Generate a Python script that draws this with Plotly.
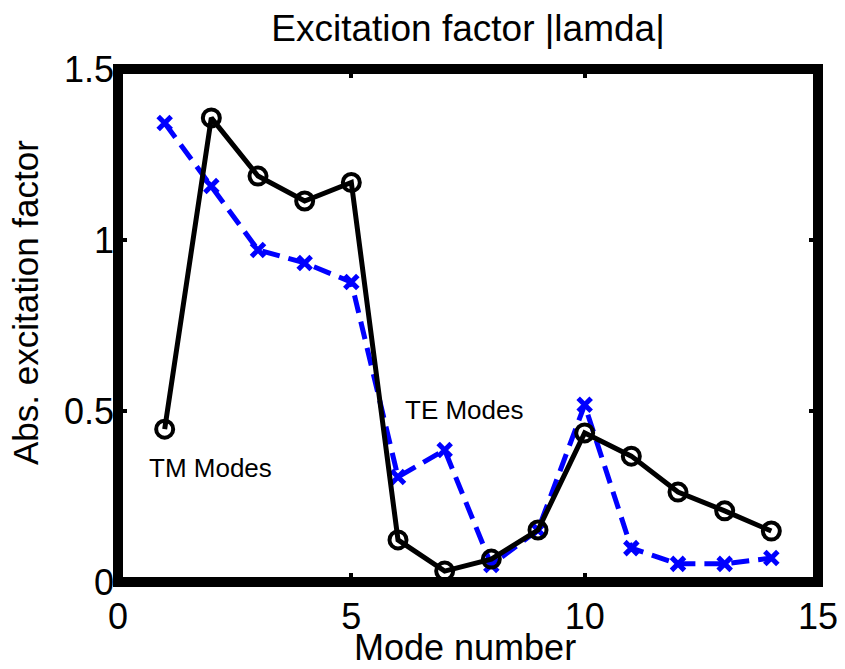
import plotly.graph_objects as go

modes = list(range(1, 15))
tm_values = [0.447, 1.357, 1.187, 1.114, 1.168, 0.123, 0.032, 0.067, 0.152,
             0.436, 0.368, 0.263, 0.208, 0.149]
te_values = [1.342, 1.158, 0.971, 0.933, 0.877, 0.307, 0.386, 0.050, 0.152,
             0.518, 0.099, 0.053, 0.053, 0.070]
x_ticks = [0, 5, 10, 15]
y_ticks = [0, 0.5, 1, 1.5]
y_tick_labels = ["0", "0.5", "1", "1.5"]

font_family = "Liberation Sans, Arial, sans-serif"

# page has an 8px body margin; work in page pixels and convert
OFF = 8
W, H = 845 - OFF, 669 - OFF
L, T = 118 - OFF, 69 - OFF
R = W - (818 - OFF)
B = H - (582 - OFF)
pw, ph = W - L - R, H - T - B

fig = go.Figure()
fig.add_trace(go.Scatter(
    x=modes, y=te_values, mode="lines+markers", name="TE Modes",
    line=dict(color="#0000FF", width=5, dash="18px,9px"),
    marker=dict(symbol="x-thin", size=13, line=dict(color="#0000FF", width=5)),
))
fig.add_trace(go.Scatter(
    x=modes, y=tm_values, mode="lines+markers", name="TM Modes",
    line=dict(color="black", width=5),
    marker=dict(symbol="circle-open", size=17, color="black", line=dict(width=4)),
))

fig.add_annotation(x=6.1, y=0.503, text="TE Modes", showarrow=False,
                   xanchor="left", yanchor="middle",
                   font=dict(size=26, color="black", family=font_family))
fig.add_annotation(x=0.62, y=0.333, text="TM Modes", showarrow=False,
                   xanchor="left", yanchor="middle",
                   font=dict(size=26, color="black", family=font_family))

# axis titles (page-pixel targets converted to paper coords)
fig.add_annotation(xref="paper", yref="paper", x=(465 - 118) / pw, y=0, yshift=-(647 - 582),
                   text="Mode number", showarrow=False, xanchor="center", yanchor="middle",
                   font=dict(size=36, color="black", family=font_family))
fig.add_annotation(xref="paper", yref="paper", x=0, xshift=-(118 - 25), y=(582 - 303) / ph,
                   text="Abs. excitation factor", showarrow=False, textangle=-90,
                   xanchor="center", yanchor="middle",
                   font=dict(size=35, color="black", family=font_family))

# thick box frame
fig.add_shape(type="rect", xref="paper", yref="paper", x0=0, y0=0, x1=1, y1=1,
              line=dict(color="black", width=10), layer="above")

fig.update_layout(
    width=W, height=H,
    margin=dict(l=L, r=R, t=T, b=B),
    paper_bgcolor="white", plot_bgcolor="white",
    showlegend=False,
    font=dict(family=font_family, color="black", size=36),
    title=dict(text="Excitation factor |lamda|", x=(468 - OFF) / W, xanchor="center",
               y=1 - (28 - OFF) / H, yanchor="middle", yref="container",
               font=dict(size=37)),
    xaxis=dict(range=[0, 15], tickvals=x_ticks, ticktext=[str(v) for v in x_ticks],
               showgrid=False, zeroline=False, showline=False, automargin=False,
               ticks="inside", ticklen=9, tickwidth=4, tickcolor="black",
               mirror="ticks", tickfont=dict(size=36), ticklabelstandoff=10),
    yaxis=dict(range=[0, 1.5], tickvals=y_ticks, ticktext=y_tick_labels,
               showgrid=False, zeroline=False, showline=False, automargin=False,
               ticks="inside", ticklen=9, tickwidth=4, tickcolor="black",
               mirror="ticks", tickfont=dict(size=36), ticklabelstandoff=3),
)

fig.write_html("out.html")
